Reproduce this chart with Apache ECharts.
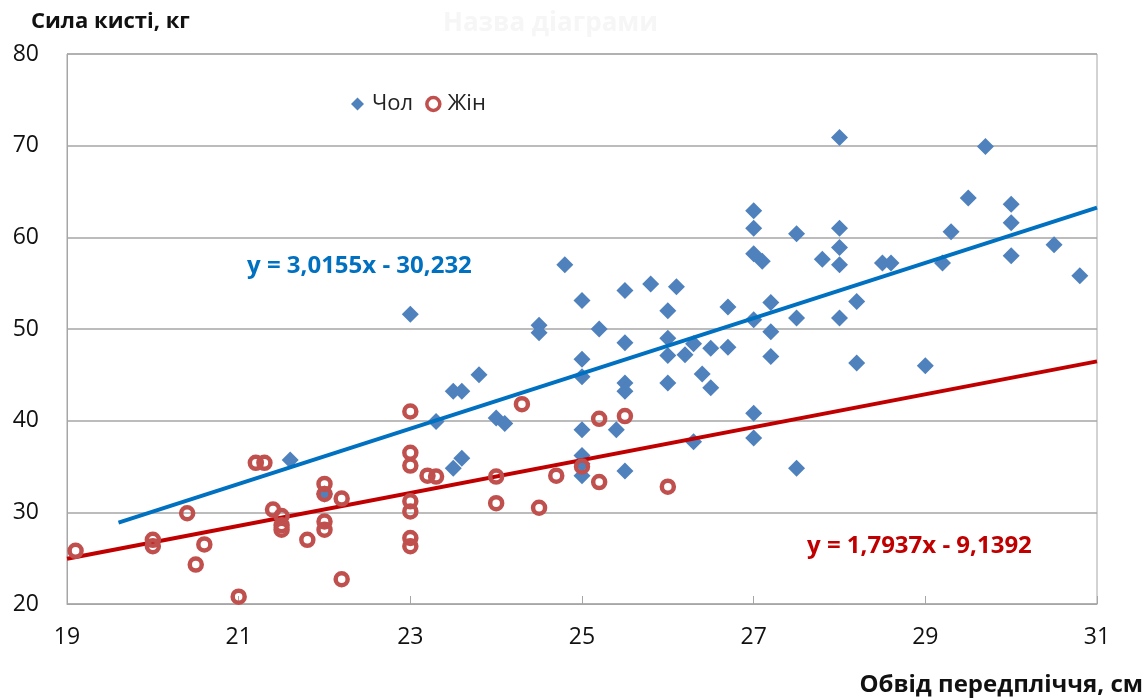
<!DOCTYPE html>
<html><head><meta charset="utf-8">
<script src="https://cdn.jsdelivr.net/npm/echarts@6/dist/echarts.min.js"></script>
<style>html,body{margin:0;padding:0;background:#fff}#c{width:1145px;height:700px}</style>
</head><body><div id="c"></div>
<script>
const xTicks = [19, 21, 23, 25, 27, 29, 31];
const yTicks = [20, 30, 40, 50, 60, 70, 80];
const maleName = 'Чол';
const femaleName = 'Жін';
const male = [
 [21.6,35.7],[22.0,32.0],[23.0,51.6],[23.3,39.9],[23.5,43.2],[23.6,43.2],[23.5,34.8],[23.6,35.9],
 [23.8,45.0],[24.0,40.3],[24.1,39.7],[24.5,50.4],[24.5,49.6],[24.8,57.0],[25.0,53.1],[25.0,46.7],
 [25.0,44.8],[25.0,39.0],[25.0,36.2],[25.0,35.3],[25.0,34.0],[25.2,50.0],[25.4,39.0],[25.5,54.2],
 [25.5,48.5],[25.5,44.1],[25.5,43.2],[25.5,34.5],[25.8,54.9],[26.0,52.0],[26.0,49.0],[26.0,47.1],
 [26.0,44.1],[26.1,54.6],[26.2,47.2],[26.3,48.4],[26.3,37.7],[26.4,45.1],[26.5,47.9],[26.5,43.6],
 [26.7,52.4],[26.7,48.0],[27.0,62.9],[27.0,61.0],[27.0,58.2],[27.0,51.0],[27.0,40.8],[27.0,38.1],
 [27.1,57.4],[27.2,52.9],[27.2,49.7],[27.2,47.0],[27.5,60.4],[27.5,51.2],[27.5,34.8],[27.8,57.6],
 [28.0,70.9],[28.0,61.0],[28.0,58.9],[28.0,57.0],[28.0,51.2],[28.2,53.0],[28.2,46.3],[28.5,57.2],
 [28.6,57.2],[29.0,46.0],[29.2,57.2],[29.3,60.6],[29.5,64.3],[29.7,69.9],[30.0,63.6],[30.0,61.6],
 [30.0,58.0],[30.5,59.2],[30.8,55.8]
];
const female = [
 [19.1,25.8],[20.0,27.0],[20.0,26.3],[20.4,29.9],[20.5,24.3],[20.6,26.5],[21.0,20.8],[21.2,35.4],
 [21.3,35.4],[21.4,30.3],[21.5,29.6],[21.5,28.6],[21.5,28.1],[21.8,27.0],[22.0,33.1],[22.0,32.0],
 [22.0,29.0],[22.0,28.1],[22.2,31.5],[22.2,22.7],[23.0,41.0],[23.0,36.5],[23.0,35.1],[23.0,31.2],
 [23.0,30.1],[23.0,27.2],[23.0,26.3],[23.2,34.0],[23.3,33.9],[24.0,33.9],[24.0,31.0],[24.3,41.8],
 [24.5,30.5],[24.7,34.0],[25.0,35.0],[25.2,40.2],[25.2,33.3],[25.5,40.5],[26.0,32.8]
];
const maleTrend = [[19.6, 28.87], [31, 63.25]];
const femaleTrend = [[19, 24.94], [31, 46.47]];
const maleEq = 'y = 3,0155x - 30,232';
const femaleEq = 'y = 1,7937x - 9,1392';
const xName = 'Обвід передпліччя, см';
const yName = 'Сила кисті, кг';
const titleText = 'Назва діаграми';

const FONT = 'Open Sans';
const chart = echarts.init(document.getElementById('c'));
chart.setOption({
  animation: false,
  backgroundColor: '#fff',
  grid: {left: 67, right: 48, top: 54, bottom: 96, show: true, borderColor: '#a6a6a6', borderWidth: 1},
  legend: {
    left: 346, top: 88, itemGap: 12, itemWidth: 13, itemHeight: 13,
    data: [
      {name: maleName, icon: 'diamond', itemStyle: {color: '#4F81BD'}},
      {name: femaleName, icon: 'circle', itemStyle: {color: 'rgba(255,255,255,0)', borderColor: '#C0504D', borderWidth: 3.5}}
    ],
    textStyle: {fontFamily: FONT, fontSize: 22, color: '#222', padding: [0, 0, 0, 3]}
  },
  xAxis: {
    type: 'value', min: 19, max: 31, interval: 2,
    axisLine: {lineStyle: {color: '#a6a6a6', width: 1}},
    axisTick: {show: true, inside: true, length: 8, lineStyle: {color: '#a6a6a6'}},
    splitLine: {show: false},
    axisLabel: {margin: 22, fontFamily: FONT, fontSize: 23, color: '#111',
      formatter: v => xTicks.includes(v) ? String(v) : ''}
  },
  yAxis: {
    type: 'value', min: 20, max: 80, interval: 10,
    axisLine: {show: true, lineStyle: {color: '#a6a6a6', width: 1}},
    axisTick: {show: false},
    splitLine: {lineStyle: {color: '#a6a6a6', width: 1.5}},
    axisLabel: {margin: 28, fontFamily: FONT, fontSize: 23, color: '#111',
      formatter: v => yTicks.includes(v) ? String(v) : ''}
  },
  graphic: [
    {type: 'text', x: 31, y: 22, style: {text: yName, font: 'bold 22px "Open Sans"', fill: '#111', textVerticalAlign: 'middle'}},
    {type: 'text', x: 1143, y: 685, style: {text: xName, font: 'bold 24px "Open Sans"', fill: '#111', textAlign: 'right', textVerticalAlign: 'middle'}},
    {type: 'text', x: 443, y: 24, style: {text: titleText, font: 'bold 26px "Open Sans"', fill: '#f6f6f6', textVerticalAlign: 'middle'}},
    {type: 'text', x: 247, y: 266, style: {text: maleEq, font: 'bold 24px "Open Sans"', fill: '#0070C0', textVerticalAlign: 'middle'}},
    {type: 'text', x: 807, y: 546, style: {text: femaleEq, font: 'bold 24px "Open Sans"', fill: '#C00000', textVerticalAlign: 'middle'}}
  ],
  series: [
    {name: maleName + ' trend', type: 'line', data: maleTrend, symbol: 'none', z: 3,
      lineStyle: {color: '#0070C0', width: 4}, silent: true},
    {name: femaleName + ' trend', type: 'line', data: femaleTrend, symbol: 'none', z: 3,
      lineStyle: {color: '#C00000', width: 4}, silent: true},
    {name: maleName, type: 'scatter', data: male, symbol: 'diamond', symbolSize: 17, z: 2,
      itemStyle: {color: '#4F81BD', opacity: 1}},
    {name: femaleName, type: 'scatter', data: female, symbol: 'circle', symbolSize: 12, z: 4,
      itemStyle: {color: 'rgba(255,255,255,0)', borderColor: '#C0504D', borderWidth: 4.5, opacity: 1}}
  ]
});
</script></body></html>
